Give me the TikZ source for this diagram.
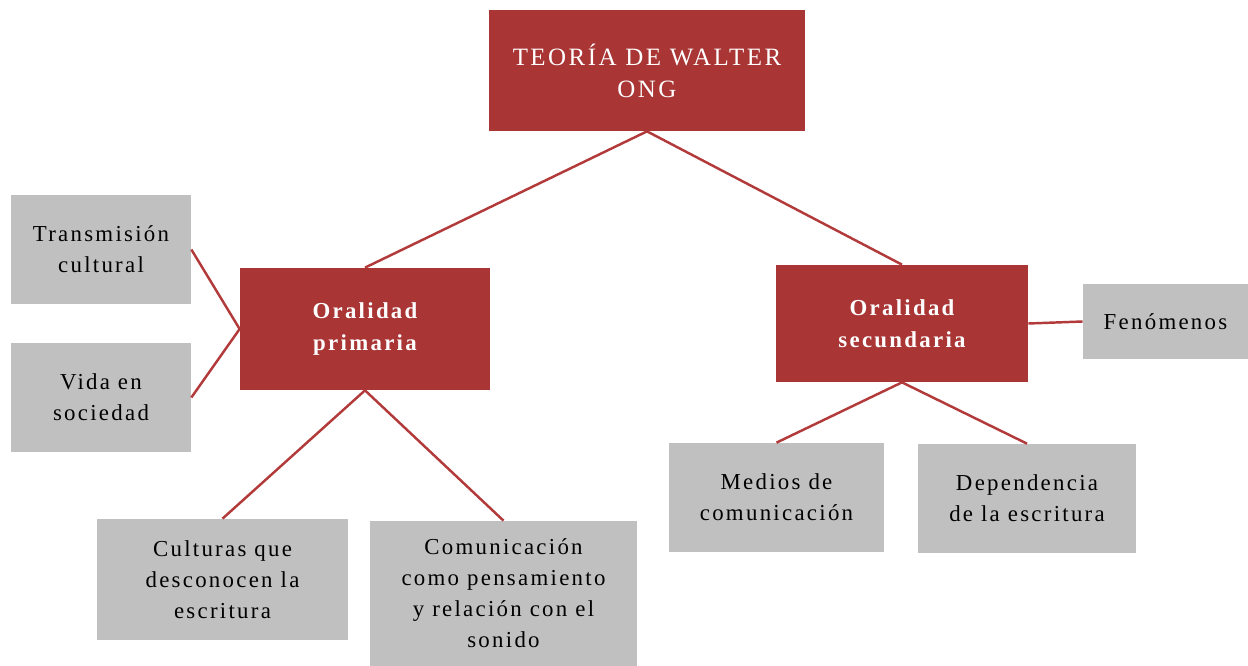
\documentclass[tikz,border=0pt]{standalone}
\usepackage{fontspec}
\setmainfont{Liberation Serif}[LetterSpace=10]
\definecolor{boxred}{HTML}{A93535}
\definecolor{linered}{HTML}{B23A3A}
\definecolor{boxgray}{HTML}{C0C0C0}
\begin{document}
\begin{tikzpicture}[x=0.02cm,y=-0.02cm,
  redbox/.style={fill=boxred,text=white,align=center,inner sep=0pt,font=\fontsize{13}{18.3}\selectfont},
  graybox/.style={fill=boxgray,text=black,align=center,inner sep=0pt,font=\fontsize{13}{17.7}\selectfont},
  conn/.style={draw=linered,line width=1.4pt}]
\useasboundingbox (0,0) rectangle (1248,666);
\node[redbox,minimum width=316*0.02cm,minimum height=121*0.02cm,font=\fontsize{14.2}{18.3}\selectfont] (top) at (647,70.5) {TEORÍA DE WALTER\\ONG};
\node[redbox,minimum width=250*0.02cm,minimum height=122*0.02cm,font=\fontsize{13}{18.3}\selectfont\bfseries] (prim) at (365,329) {Oralidad\\primaria};
\node[redbox,minimum width=252*0.02cm,minimum height=117*0.02cm,font=\fontsize{13}{18.3}\selectfont\bfseries] (sec) at (902,323.5) {Oralidad\\secundaria};
\node[graybox,minimum width=180*0.02cm,minimum height=109*0.02cm] (trans) at (101,249.5) {Transmisión\\cultural};
\node[graybox,minimum width=180*0.02cm,minimum height=109*0.02cm] (vida) at (101,397.5) {Vida en\\sociedad};
\node[graybox,minimum width=165*0.02cm,minimum height=75*0.02cm] (fen) at (1165.5,321.5) {Fenómenos};
\node[graybox,minimum width=251*0.02cm,minimum height=121*0.02cm] (cult) at (222.5,579.5) {Culturas que\\desconocen la\\escritura};
\node[graybox,minimum width=267*0.02cm,minimum height=145*0.02cm] (com) at (503.5,593.5) {Comunicación\\como pensamiento\\y relación con el\\sonido};
\node[graybox,minimum width=215*0.02cm,minimum height=109*0.02cm] (med) at (776.5,497.5) {Medios de\\comunicación};
\node[graybox,minimum width=218*0.02cm,minimum height=109*0.02cm] (dep) at (1027,498.5) {Dependencia\\de la escritura};
\draw[conn] (top.south) -- (prim.north);
\draw[conn] (top.south) -- (sec.north);
\draw[conn] (prim.west) -- (trans.east);
\draw[conn] (prim.west) -- (vida.east);
\draw[conn] (prim.south) -- (cult.north);
\draw[conn] (prim.south) -- (com.north);
\draw[conn] (sec.south) -- (med.north);
\draw[conn] (sec.south) -- (dep.north);
\draw[conn] (sec.east) -- (fen.west);
\end{tikzpicture}
\end{document}
